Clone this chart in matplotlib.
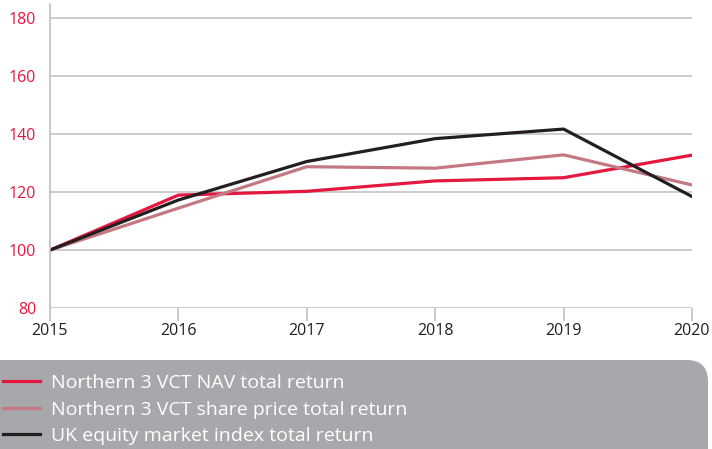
import numpy as np
import matplotlib as mpl
mpl.use('Agg')
import matplotlib.pyplot as plt
from matplotlib.patches import FancyBboxPatch

years = [2015, 2016, 2017, 2018, 2019, 2020]
nav_return = [100, 119.0, 120.3, 123.9, 125.0, 132.8]
share_price_return = [100, 114.5, 128.8, 128.3, 132.9, 122.5]
uk_index_return = [100, 117.3, 130.6, 138.5, 141.8, 118.5]
labels = ['Northern 3 VCT NAV total return',
          'Northern 3 VCT share price total return',
          'UK equity market index total return']

plt.rcParams['font.family'] = ['Open Sans', 'DejaVu Sans']

fig = plt.figure(figsize=(7.12, 4.49), dpi=100)
ax = fig.add_axes([50/712, 1 - 308/449, 642/712, 304/449])

l1, = ax.plot(years, nav_return, color='#e4173e', lw=2.3)
l2, = ax.plot(years, share_price_return, color='#c47882', lw=2.3)
l3, = ax.plot(years, uk_index_return, color='#231f20', lw=2.3)

ax.set_xlim(2015, 2020)
ax.set_ylim(80, 185)
ax.set_yticks(np.arange(80, 181, 20))
ax.set_xticks(years)
ax.yaxis.grid(True, color='#cccccc', lw=1.4)
ax.set_axisbelow(True)
for s in ['top', 'right', 'bottom']:
    ax.spines[s].set_visible(False)
ax.spines['left'].set_color('#c0c0c0')
ax.spines['left'].set_linewidth(1.2)
ax.tick_params(axis='y', length=0, labelcolor='#e4173e', labelsize=11.5, pad=10)
ax.tick_params(axis='x', length=9, width=1.2, color='#c0c0c0', labelcolor='#231f20',
               labelsize=11.5, pad=2)

# grey legend panel
panel = FancyBboxPatch((-20/712, -30/449), 728/712, (89 + 30)/449,
                       boxstyle='round,pad=0,rounding_size=0.03',
                       transform=fig.transFigure, facecolor='#a7a8ac',
                       edgecolor='none', zorder=0, mutation_aspect=712/449)
fig.add_artist(panel)

fig.legend([l1, l2, l3], labels, loc='upper left', bbox_to_anchor=(3/712, 1 - 374/449),
           frameon=False, labelcolor='white', fontsize=14, handlelength=1.9,
           handletextpad=0.55, labelspacing=0.44, borderaxespad=0, borderpad=0)

fig.savefig('out.png')
